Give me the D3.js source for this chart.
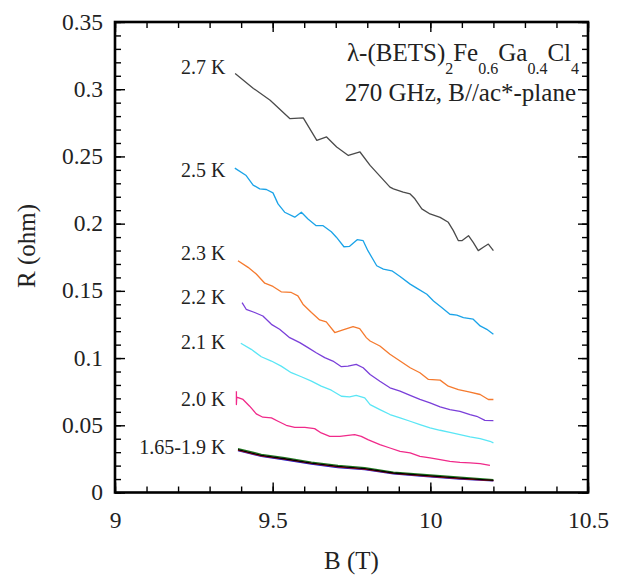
<!doctype html>
<html>
<head>
<meta charset="utf-8">
<style>
    html, body {
        margin: 0;
        padding: 0;
        background: #fff;
    }
    svg {
        display: block;
    }
    .tick line { stroke: #000; stroke-width: 1.4; }
    .curve { fill: none; stroke-width: 1.3; stroke-linejoin: round; }
</style>
</head>
<body>
<svg id="chart" width="622" height="577"></svg>
<script src="https://cdn.jsdelivr.net/npm/d3@7/dist/d3.min.js"></script>
<script>
    var SERIF = "'Liberation Serif', 'Times New Roman', serif";

    // [B (T), R (ohm)]
    var r27 = [[9.381,0.3117],[9.439,0.3006],[9.492,0.2918],[9.555,0.2781],[9.597,0.2787],[9.640,0.2619],[9.671,0.2645],
        [9.703,0.2570],[9.740,0.2507],[9.777,0.2533],[9.809,0.2433],[9.872,0.2272],[9.883,0.2259],[9.914,0.2234],[9.936,0.2221],
        [9.951,0.2185],[9.973,0.2110],[9.999,0.2072],[10.031,0.2047],[10.057,0.2010],[10.073,0.1948],[10.089,0.1873],
        [10.100,0.1873],[10.121,0.1910],[10.136,0.1861],[10.152,0.1799],[10.168,0.1824],[10.184,0.1848],[10.200,0.1799]];
    var r25 = [[9.380,0.2413],[9.416,0.2358],[9.438,0.2287],[9.459,0.2259],[9.480,0.2254],[9.501,0.2229],[9.517,0.2147],
        [9.538,0.2085],[9.570,0.2048],[9.591,0.2085],[9.612,0.2035],[9.638,0.1985],[9.660,0.1985],[9.686,0.1940],[9.702,0.1899],
        [9.726,0.1828],[9.744,0.1831],[9.768,0.1881],[9.787,0.1873],[9.802,0.1799],[9.830,0.1687],[9.851,0.1662],[9.878,0.1649],
        [9.904,0.1607],[9.936,0.1550],[9.962,0.1513],[9.989,0.1475],[10.010,0.1425],[10.036,0.1376],[10.062,0.1326],
        [10.084,0.1319],[10.105,0.1301],[10.136,0.1289],[10.158,0.1239],[10.179,0.1214],[10.200,0.1177]];
    var r23 = [[9.390,0.1724],[9.422,0.1675],[9.448,0.1625],[9.475,0.1557],[9.501,0.1533],[9.527,0.1493],[9.559,0.1488],
        [9.580,0.1463],[9.596,0.1401],[9.623,0.1339],[9.649,0.1284],[9.670,0.1269],[9.697,0.1190],[9.723,0.1209],[9.755,0.1234],
        [9.776,0.1219],[9.797,0.1152],[9.809,0.1127],[9.840,0.1090],[9.872,0.1028],[9.904,0.0978],[9.936,0.0928],[9.967,0.0891],
        [9.994,0.0841],[10.031,0.0836],[10.057,0.0791],[10.089,0.0766],[10.126,0.0746],[10.158,0.0729],[10.184,0.0692],[10.200,0.0692]];
    var r22 = [[9.403,0.1413],[9.416,0.1363],[9.443,0.1339],[9.469,0.1313],[9.496,0.1251],[9.522,0.1214],[9.554,0.1152],
        [9.586,0.1115],[9.612,0.1078],[9.638,0.1040],[9.665,0.1003],[9.691,0.0978],[9.718,0.0936],[9.739,0.0940],[9.765,0.0953],
        [9.787,0.0928],[9.809,0.0878],[9.840,0.0828],[9.872,0.0779],[9.904,0.0754],[9.936,0.0722],[9.967,0.0692],[9.999,0.0667],
        [10.031,0.0637],[10.062,0.0617],[10.094,0.0604],[10.126,0.0580],[10.147,0.0567],[10.173,0.0537],[10.200,0.0535]];
    var r21 = [[9.399,0.1110],[9.432,0.1065],[9.464,0.1010],[9.496,0.0978],[9.527,0.0940],[9.559,0.0891],[9.591,0.0861],
        [9.623,0.0828],[9.654,0.0791],[9.686,0.0761],[9.718,0.0716],[9.744,0.0712],[9.765,0.0722],[9.792,0.0704],[9.809,0.0654],
        [9.840,0.0617],[9.872,0.0580],[9.904,0.0555],[9.936,0.0530],[9.967,0.0505],[9.999,0.0481],[10.031,0.0463],[10.062,0.0448],
        [10.094,0.0431],[10.126,0.0414],[10.158,0.0401],[10.189,0.0381],[10.200,0.0369]];
    var r20 = [[9.385,0.0754],[9.385,0.0654],[9.386,0.0709],[9.406,0.0692],[9.427,0.0642],[9.448,0.0585],[9.469,0.0560],
        [9.496,0.0555],[9.517,0.0530],[9.543,0.0500],[9.570,0.0485],[9.602,0.0485],[9.633,0.0475],[9.654,0.0443],[9.681,0.0418],
        [9.713,0.0418],[9.739,0.0425],[9.760,0.0431],[9.781,0.0418],[9.802,0.0393],[9.840,0.0356],[9.872,0.0331],[9.904,0.0306],
        [9.936,0.0294],[9.967,0.0269],[9.999,0.0257],[10.031,0.0245],[10.062,0.0232],[10.094,0.0224],[10.126,0.0220],
        [10.158,0.0215],[10.189,0.0201]];
    // 1.65 - 1.9 K, all on top of each other
    var rLowBlue = [[9.390,0.0312],[9.464,0.0268],[9.538,0.0243],[9.623,0.0211],[9.707,0.0186],[9.792,0.0170],[9.883,0.0138],
        [9.989,0.0118],[10.094,0.0100],[10.200,0.0086]];
    var rLowGreen = [[9.390,0.0327],[9.464,0.0284],[9.538,0.0259],[9.623,0.0226],[9.707,0.0202],[9.792,0.0185],[9.883,0.0152],
        [9.989,0.0132],[10.094,0.0114],[10.200,0.0095]];
    var rLowRed = [[9.390,0.0316],[9.464,0.0273],[9.538,0.0248],[9.623,0.0216],[9.707,0.0191],[9.792,0.0174],[9.883,0.0142],
        [9.989,0.0122],[10.094,0.0104],[10.200,0.0088]];
    var rLowBlack = [[9.390,0.0319],[9.464,0.0276],[9.538,0.0251],[9.623,0.0219],[9.707,0.0194],[9.792,0.0177],[9.883,0.0145],
        [9.989,0.0125],[10.094,0.0107],[10.200,0.0090]];

    var curves = [r27, r25, r23, r22, r21, r20, rLowBlue, rLowGreen, rLowRed, rLowBlack];
    var colors = ["#4a4a4a", "#1aa3e8", "#f57a2e", "#7a3fd9", "#5ae6f5", "#f02a8a", "#1515c8", "#1e7a1e", "#d81818", "#000"];

    var labels = ["2.7 K", "2.5 K", "2.3 K", "2.2 K", "2.1 K", "2.0 K", "1.65-1.9 K"];
    var labelR = [0.3110, 0.2348, 0.1726, 0.1403, 0.1067, 0.0643, 0.0286];

    var xTicks = [9, 9.5, 10, 10.5];
    var yTicks = [0, 0.05, 0.1, 0.15, 0.2, 0.25, 0.3, 0.35];

    var svg = d3.select("#chart");
    var x = d3.scaleLinear().domain([9, 10.5]).range([115, 588]);
    var y = d3.scaleLinear().domain([0, 0.35]).range([492.5, 22]);

    var xMinor = d3.range(9, 10.5001, 0.1).map(function(d){ return +d.toFixed(2); });
    var yMinor = d3.range(0, 0.35001, 0.01).map(function(d){ return +d.toFixed(3); });
    var fmt = function(d){ return d === 0 ? "0" : String(+d.toFixed(2)); };

    function ax(gen, minor, major, tx, ty, withText){
        svg.append("g").attr("transform", "translate(" + tx + "," + ty + ")")
            .call(gen.tickValues(minor).tickSize(-6).tickSizeOuter(0).tickFormat(""))
            .select(".domain").remove();
        var g = svg.append("g").attr("transform", "translate(" + tx + "," + ty + ")")
            .call(gen.tickValues(major).tickSize(-10).tickSizeOuter(0).tickPadding(withText ? 12 : 0)
                .tickFormat(withText ? fmt : ""));
        g.select(".domain").remove();
        g.selectAll("text")
            .style("font-family", SERIF)
            .style("font-size", "23.5px")
            .attr("fill", "#222");
        return g;
    }

    ax(d3.axisBottom(x), xMinor, xTicks, 0, y(0), true).selectAll("text").attr("dy", "1em");
    ax(d3.axisTop(x), xMinor, xTicks, 0, y(0.35), false);
    ax(d3.axisLeft(y), yMinor, yTicks, x(9), 0, true).selectAll("text").attr("dy", "0.3em");
    ax(d3.axisRight(y), yMinor, yTicks, x(10.5), 0, false);

    svg.append("rect")
        .attr("x", x(9)).attr("y", y(0.35))
        .attr("width", x(10.5) - x(9)).attr("height", y(0) - y(0.35))
        .attr("fill", "none").attr("stroke", "#000").attr("stroke-width", 2.6);

    var line = d3.line().x(function(d){ return x(d[0]); }).y(function(d){ return y(d[1]); });

    svg.selectAll(".curve").data(curves).enter().append("path")
        .attr("class", "curve")
        .attr("d", line)
        .attr("stroke", function(d, i){ return colors[i]; })
        .attr("stroke-width", function(d, i){ return i === 9 ? 1.8 : 1.3; });

    svg.selectAll(".label").data(labels).enter().append("text")
        .attr("class", "label")
        .attr("x", x(9.35))
        .attr("y", function(d, i){ return y(labelR[i]); })
        .attr("text-anchor", "end")
        .style("font-family", SERIF).style("font-size", "20px").attr("fill", "#222")
        .text(function(d){ return d; });

    // compound / conditions
    var t = svg.append("text").attr("x", 579).attr("y", 61)
        .attr("text-anchor", "end")
        .style("font-family", SERIF).style("font-size", "25px").attr("fill", "#222");
    [["λ-(BETS)", 0], ["2", 1], ["Fe", 0], ["0.6", 1], ["Ga", 0], ["0.4", 1], ["Cl", 0], ["4", 1]].forEach(function(p, i, arr){
        var prev = i > 0 ? arr[i - 1][1] : 0;
        t.append("tspan")
            .attr("dy", p[1] === prev ? 0 : (p[1] ? 13 : -13))
            .style("font-size", p[1] ? "16px" : "25px")
            .text(p[0]);
    });
    svg.append("text").attr("x", 576).attr("y", 101)
        .attr("text-anchor", "end")
        .style("font-family", SERIF).style("font-size", "25px").attr("fill", "#222")
        .text("270 GHz, B//ac*-plane");

    svg.append("text")
        .attr("x", (x(9) + x(10.5)) / 2).attr("y", 569)
        .attr("text-anchor", "middle")
        .style("font-family", SERIF).style("font-size", "25px").attr("fill", "#222")
        .text("B (T)");
    svg.append("text")
        .attr("transform", "translate(35,246) rotate(-90)")
        .attr("text-anchor", "middle")
        .style("font-family", SERIF).style("font-size", "25px").attr("fill", "#222")
        .text("R (ohm)");
</script>
</body>
</html>
